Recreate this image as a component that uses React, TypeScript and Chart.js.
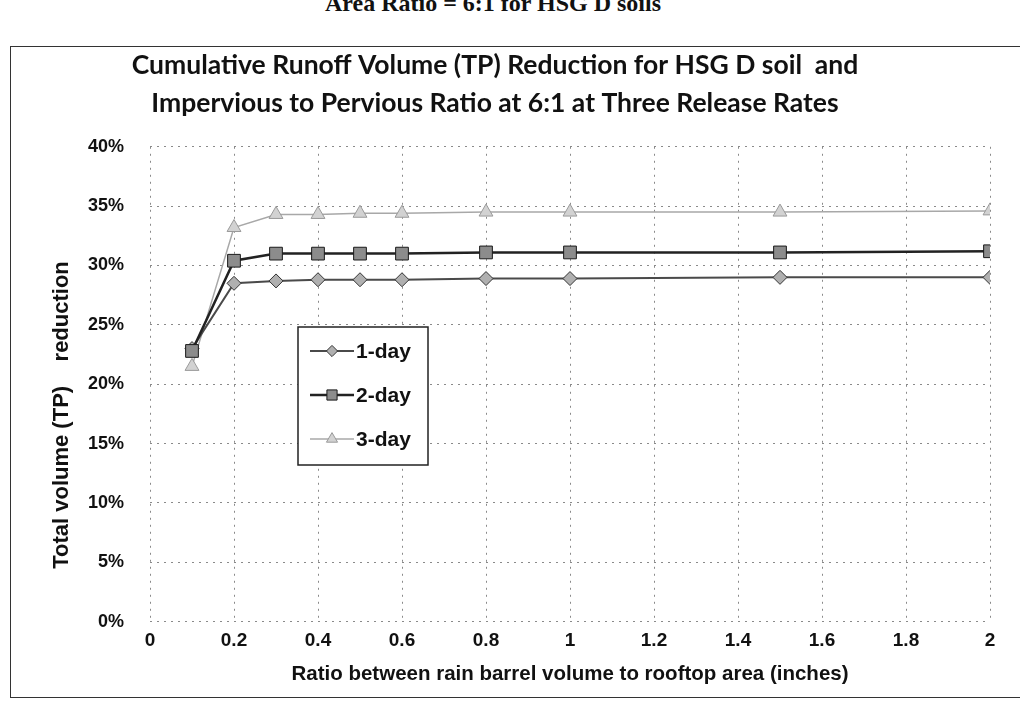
import React, { useEffect, useRef } from "react";
import { Chart, registerables } from "chart.js";

Chart.register(...registerables);

// ---- data ----
const xValues = [0.1, 0.2, 0.3, 0.4, 0.5, 0.6, 0.8, 1.0, 1.5, 2.0];
const oneDay = [23.0, 28.5, 28.7, 28.8, 28.8, 28.8, 28.9, 28.9, 29.0, 29.0];
const twoDay = [22.8, 30.4, 31.0, 31.0, 31.0, 31.0, 31.1, 31.1, 31.1, 31.2];
const threeDay = [21.5, 33.2, 34.3, 34.3, 34.4, 34.4, 34.5, 34.5, 34.5, 34.6];
const seriesNames = ["1-day", "2-day", "3-day"];

const xTicks = [0, 0.2, 0.4, 0.6, 0.8, 1, 1.2, 1.4, 1.6, 1.8, 2];
const xTickLabels = ["0", "0.2", "0.4", "0.6", "0.8", "1", "1.2", "1.4", "1.6", "1.8", "2"];
const yTicks = [0, 5, 10, 15, 20, 25, 30, 35, 40];
const yTickLabels = ["0%", "5%", "10%", "15%", "20%", "25%", "30%", "35%", "40%"];

const headerText = "Area Ratio = 6:1 for HSG D soils";
const titleLines = [
  "Cumulative Runoff Volume (TP) Reduction for HSG D soil  and",
  "Impervious to Pervious Ratio at 6:1 at Three Release Rates",
];
const xTitle = "Ratio between rain barrel volume to rooftop area (inches)";
const yTitle = "Total volume (TP)    reduction";

// ---- styles ----
const lineColors = ["#4a4a4a", "#222222", "#a8a8a8"];
const pointFills = ["#b0b0b0", "#8c8c8c", "#d2d2d2"];
const pointBorders = ["#333333", "#1a1a1a", "#9a9a9a"];
const pointStyles = ["rectRot", "rect", "triangle"];
const pointRadii = [7, 9, 8];
const lineWidths = [2, 2.5, 1.5];
const AXIS_FONT = "'Liberation Sans', Arial, sans-serif";

function drawMarker(ctx: CanvasRenderingContext2D, style: string, x: number, y: number, r: number) {
  ctx.beginPath();
  if (style === "rectRot") {
    ctx.moveTo(x, y - r);
    ctx.lineTo(x + r, y);
    ctx.lineTo(x, y + r);
    ctx.lineTo(x - r, y);
    ctx.closePath();
  } else if (style === "rect") {
    const s = Math.SQRT1_2 * r;
    ctx.rect(x - s, y - s, 2 * s, 2 * s);
  } else {
    const h = r * 1.5;
    ctx.moveTo(x, y - r);
    ctx.lineTo(x + r * 0.87, y + h - r);
    ctx.lineTo(x - r * 0.87, y + h - r);
    ctx.closePath();
  }
  ctx.fill();
  ctx.stroke();
}

const overlayPlugin = {
  id: "overlay",
  afterDraw(chart: any) {
    const ctx: CanvasRenderingContext2D = chart.ctx;
    ctx.save();
    // y-axis title
    ctx.fillStyle = "#111";
    ctx.font = `bold 22px ${AXIS_FONT}`;
    ctx.textAlign = "center";
    ctx.textBaseline = "middle";
    ctx.translate(62, 415);
    ctx.rotate(-Math.PI / 2);
    ctx.fillText(yTitle, 0, 0);
    ctx.restore();

    // legend box
    ctx.save();
    const bx = 298, by = 327, bw = 130, bh = 138;
    ctx.fillStyle = "#ffffff";
    ctx.fillRect(bx, by, bw, bh);
    ctx.strokeStyle = "#222";
    ctx.lineWidth = 1.5;
    ctx.strokeRect(bx, by, bw, bh);
    chart.data.datasets.forEach((ds: any, i: number) => {
      const y = by + 24 + i * 44;
      ctx.strokeStyle = ds.borderColor;
      ctx.lineWidth = ds.borderWidth;
      ctx.beginPath();
      ctx.moveTo(bx + 12, y);
      ctx.lineTo(bx + 56, y);
      ctx.stroke();
      ctx.fillStyle = ds.pointBackgroundColor;
      ctx.strokeStyle = ds.pointBorderColor;
      ctx.lineWidth = 1;
      drawMarker(ctx, ds.pointStyle, bx + 34, y, ds.pointRadius * 0.8);
      ctx.fillStyle = "#111";
      ctx.font = `bold 21px ${AXIS_FONT}`;
      ctx.textAlign = "left";
      ctx.textBaseline = "middle";
      ctx.fillText(ds.label, bx + 58, y + 1);
    });
    ctx.restore();
  },
};

export default function App() {
  const canvasRef = useRef<HTMLCanvasElement | null>(null);

  useEffect(() => {
    if (!canvasRef.current) return;
    const series = [oneDay, twoDay, threeDay];
    const chart = new Chart(canvasRef.current, {
      type: "line",
      data: {
        datasets: series.map((vals, i) => ({
          label: seriesNames[i],
          data: xValues.map((x, j) => ({ x, y: vals[j] })),
          borderColor: lineColors[i],
          borderWidth: lineWidths[i],
          backgroundColor: pointFills[i],
          pointBackgroundColor: pointFills[i],
          pointBorderColor: pointBorders[i],
          pointBorderWidth: 1,
          pointStyle: pointStyles[i],
          pointRadius: pointRadii[i],
          tension: 0,
          fill: false,
          order: i === 1 ? 0 : i === 0 ? 1 : 2,
        })),
      },
      options: {
        responsive: false,
        animation: false,
        events: [],
        layout: { padding: { top: 47, right: 30, bottom: 32, left: 0 } },
        plugins: {
          legend: { display: false },
          tooltip: { enabled: false },
          title: {
            display: true,
            text: titleLines,
            color: "#111",
            font: { family: "Lato, 'Open Sans', sans-serif", size: 26.5, weight: "bold", lineHeight: 1.43 },
            padding: { top: 0, bottom: 24 },
          },
        },
        scales: {
          x: {
            type: "linear",
            min: 0,
            max: 2,
            afterBuildTicks: (scale: any) => {
              scale.ticks = xTicks.map((v) => ({ value: v }));
            },
            ticks: {
              autoSkip: false,
              maxRotation: 0,
              padding: 8,
              color: "#111",
              font: { family: AXIS_FONT, size: 19, weight: "bold" },
              callback: (v: any) => xTickLabels[xTicks.indexOf(Number(v))] ?? "",
            },
            grid: { color: "#8a8a8a", lineWidth: 1, drawTicks: false },
            border: { display: false, dash: [2, 5] },
            title: {
              display: true,
              text: xTitle,
              color: "#111",
              font: { family: AXIS_FONT, size: 20.5, weight: "bold" },
              padding: { top: 2, bottom: 0 },
            },
          },
          y: {
            type: "linear",
            min: 0,
            max: 40,
            afterBuildTicks: (scale: any) => {
              scale.ticks = yTicks.map((v) => ({ value: v }));
            },
            afterFit: (scale: any) => {
              scale.width = 150;
            },
            ticks: {
              padding: 26,
              color: "#111",
              font: { family: AXIS_FONT, size: 18, weight: "bold" },
              callback: (v: any) => yTickLabels[yTicks.indexOf(Number(v))] ?? "",
            },
            grid: { color: "#8a8a8a", lineWidth: 1, drawTicks: false },
            border: { display: false, dash: [2, 5] },
          },
        },
      },
      plugins: [overlayPlugin],
    } as any);

    // dotted grid lines
    (chart.options.scales as any).x.grid.borderDash = [2, 5];
    (chart.options.scales as any).x.border.dash = [2, 5];
    (chart.options.scales as any).y.border.dash = [2, 5];
    chart.update();

    return () => chart.destroy();
  }, []);

  return (
    <div style={{ position: "absolute", left: 0, top: 0, width: 1020, height: 719, overflow: "hidden", background: "#fff" }}>
      <div
        style={{
          position: "absolute",
          left: 0,
          width: 986,
          top: -9,
          textAlign: "center",
          font: "bold 24px 'Liberation Serif', 'DejaVu Serif', serif",
          lineHeight: "24px",
          color: "#111",
          whiteSpace: "nowrap",
        }}
      >
        {headerText}
      </div>
      <div
        style={{
          position: "absolute",
          left: 10,
          top: 46,
          width: 1040,
          height: 652,
          border: "1.5px solid #333",
          boxSizing: "border-box",
        }}
      />
      <canvas
        ref={canvasRef}
        width={1020}
        height={719}
        style={{ position: "absolute", left: 0, top: 0, width: 1020, height: 719 }}
      />
    </div>
  );
}
